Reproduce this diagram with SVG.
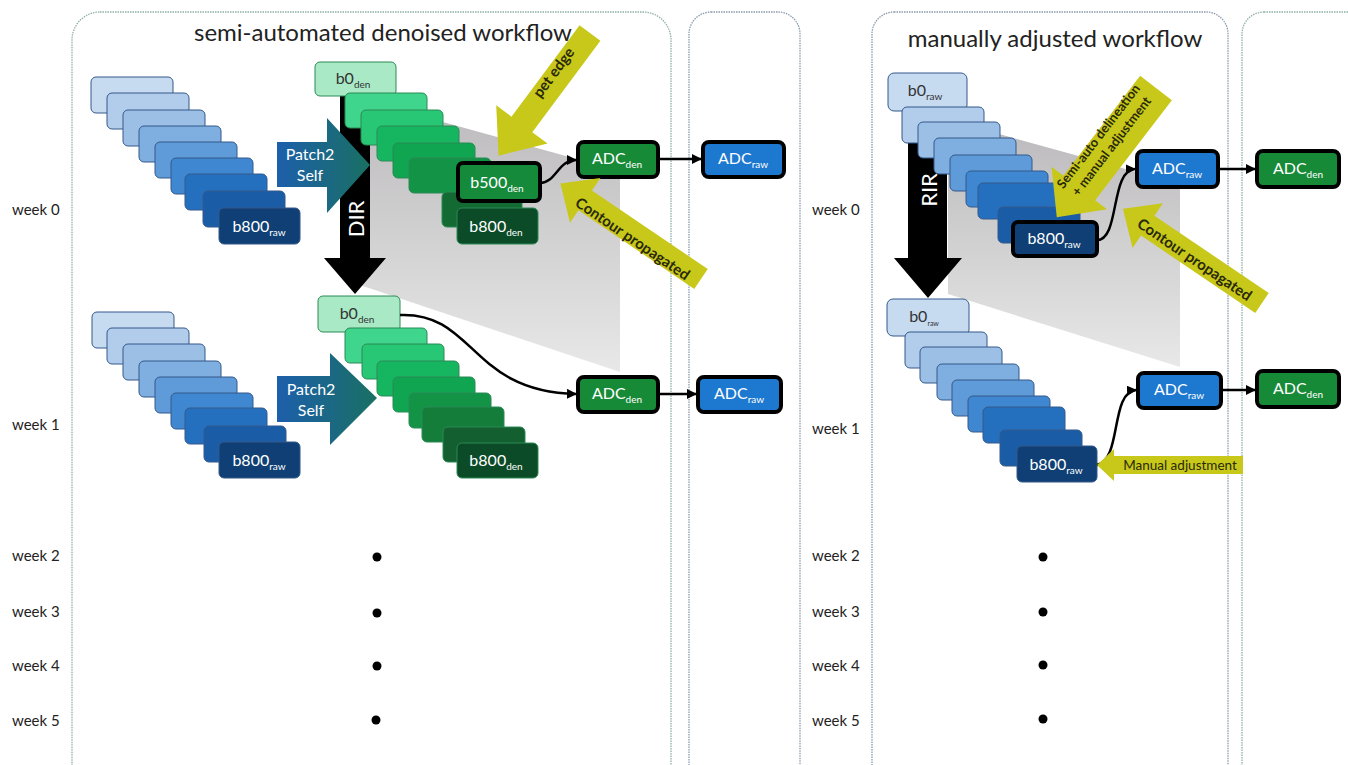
<svg xmlns="http://www.w3.org/2000/svg" width="1348" height="765" viewBox="0 0 1348 765">
<style>
text{font-family:Lato,"Open Sans","Liberation Sans",sans-serif}
.panelA{fill:none;stroke:#8fb0a8;stroke-width:1.3;stroke-dasharray:1.5 1}
.panelB{fill:none;stroke:#8c9aae;stroke-width:1.3;stroke-dasharray:1.5 1}
.title{font-size:24px;fill:#222;text-anchor:middle}
.week{font-size:15px;fill:#222}
.bl{stroke:#34598a;stroke-width:1}
.gr{stroke:#2a8a55;stroke-width:1}
.thick{stroke:#000;stroke-width:4}
.lbl{font-size:16px;text-anchor:middle;fill:#fff}
.dark{fill:#333}
.sub{font-size:10px}
.yel{fill:#c8c81a}
.ytxt{font-size:15px;font-weight:bold;fill:#2a2a08;text-anchor:middle;dominant-baseline:central}
.big{font-size:22px;fill:#fff;text-anchor:middle;dominant-baseline:central}
.p2s{font-size:16px;fill:#fff;text-anchor:middle}
.conn{fill:none;stroke:#000;stroke-width:2.5}
</style>
<defs>
<marker id="ah" viewBox="0 0 10 10" refX="9" refY="5" markerWidth="4" markerHeight="4" orient="auto" markerUnits="strokeWidth">
<path d="M0,0 L10,5 L0,10 z" fill="#000"/>
</marker>
<linearGradient id="shadeL" gradientUnits="userSpaceOnUse" x1="0" y1="95" x2="0" y2="372">
<stop offset="0" stop-color="#bbb9bb"/><stop offset="1" stop-color="#e8e8e8"/>
</linearGradient>
<linearGradient id="shadeR" gradientUnits="userSpaceOnUse" x1="0" y1="120" x2="0" y2="367">
<stop offset="0" stop-color="#bbb9bb"/><stop offset="1" stop-color="#e8e8e8"/>
</linearGradient>
<linearGradient id="p2s" x1="0" y1="0" x2="1" y2="0">
<stop offset="0" stop-color="#1d5fab"/><stop offset="1" stop-color="#197062"/>
</linearGradient>
</defs>

<g id="panels">
<rect class="panelA" x="72" y="12" width="599" height="790" rx="28"/>
<rect class="panelB" x="689" y="12" width="111" height="790" rx="22"/>
<rect class="panelB" x="872" y="12" width="356" height="790" rx="22"/>
<rect class="panelA" x="1242" y="12" width="130" height="790" rx="22"/>
<text class="title" x="383" y="41">semi-automated denoised workflow</text>
<text class="title" x="1055" y="47">manually adjusted workflow</text>
</g>

<g id="week-labels">
<text class="week" x="12" y="215">week 0</text>
<text class="week" x="12" y="430">week 1</text>
<text class="week" x="12" y="561">week 2</text>
<text class="week" x="12" y="617">week 3</text>
<text class="week" x="12" y="671">week 4</text>
<text class="week" x="12" y="726">week 5</text>
<text class="week" x="812" y="215">week 0</text>
<text class="week" x="812" y="434">week 1</text>
<text class="week" x="812" y="561">week 2</text>
<text class="week" x="812" y="617">week 3</text>
<text class="week" x="812" y="671">week 4</text>
<text class="week" x="812" y="726">week 5</text>
</g>

<g id="dots" fill="#000">
<circle cx="377" cy="557" r="4.5"/><circle cx="377" cy="613" r="4.5"/><circle cx="377" cy="666" r="4.5"/><circle cx="376" cy="720" r="4.5"/>
<circle cx="1043" cy="557" r="4.5"/><circle cx="1043" cy="612" r="4.5"/><circle cx="1043" cy="665" r="4.5"/><circle cx="1043" cy="719" r="4.5"/>
</g>

<g id="shadows">
<polygon points="345,95 620,171 620,372 345,280" fill="url(#shadeL)"/>
<polygon points="948,120 1180,184 1180,367 948,294" fill="url(#shadeR)"/>
</g>

<g id="dir-arrow">
<polygon points="340,95 370,95 370,258 386,258 355,294 324,258 340,258" fill="#000"/>
<text class="big" transform="translate(355,219) rotate(-90)">DIR</text>
</g>
<g id="rir-arrow">
<polygon points="908,108 947,108 947,258 962,258 928,298 894,258 908,258" fill="#000"/>
<text class="big" transform="translate(928,190) rotate(-90)">RIR</text>
</g>

<g id="raw-stack-w0-left">
<rect class="bl" x="91" y="77" width="82" height="36" rx="5" fill="#c6daf0"/>
<rect class="bl" x="107" y="93" width="82" height="36" rx="5" fill="#b2cdeb"/>
<rect class="bl" x="123" y="110" width="82" height="36" rx="5" fill="#9cbfe6"/>
<rect class="bl" x="139" y="126" width="82" height="36" rx="5" fill="#7faee0"/>
<rect class="bl" x="155" y="142" width="82" height="36" rx="5" fill="#5f9bd8"/>
<rect class="bl" x="171" y="158" width="82" height="36" rx="5" fill="#3f87d1"/>
<rect class="bl" x="185" y="174" width="82" height="36" rx="5" fill="#2470bf"/>
<rect class="bl" x="203" y="191" width="82" height="36" rx="5" fill="#1a5ca6"/>
<rect class="bl" x="219" y="208" width="81" height="36" rx="5" fill="#0f3f74"/>
<text class="lbl" x="259" y="232">b800<tspan class="sub" dy="4">raw</tspan></text>
</g>

<g id="raw-stack-w1-left">
<rect class="bl" x="92" y="312" width="82" height="36" rx="5" fill="#c6daf0"/>
<rect class="bl" x="107" y="328" width="82" height="36" rx="5" fill="#b2cdeb"/>
<rect class="bl" x="123" y="344" width="82" height="36" rx="5" fill="#9cbfe6"/>
<rect class="bl" x="139" y="361" width="82" height="36" rx="5" fill="#7faee0"/>
<rect class="bl" x="155" y="377" width="82" height="36" rx="5" fill="#5f9bd8"/>
<rect class="bl" x="171" y="393" width="82" height="36" rx="5" fill="#3f87d1"/>
<rect class="bl" x="185" y="408" width="82" height="36" rx="5" fill="#2470bf"/>
<rect class="bl" x="204" y="426" width="82" height="36" rx="5" fill="#1a5ca6"/>
<rect class="bl" x="219" y="442" width="81" height="36" rx="5" fill="#0f3f74"/>
<text class="lbl" x="259" y="466">b800<tspan class="sub" dy="4">raw</tspan></text>
</g>

<g id="den-stack-w0">
<rect class="gr" x="315" y="62" width="81" height="34" rx="5" fill="#a9e9c6"/>
<text class="lbl dark" x="353" y="84">b0<tspan class="sub" dy="4">den</tspan></text>
<rect class="gr" x="345" y="93" width="82" height="35" rx="5" fill="#40d58c"/>
<rect class="gr" x="361" y="110" width="82" height="35" rx="5" fill="#28c775"/>
<rect class="gr" x="377" y="126" width="82" height="35" rx="5" fill="#16b660"/>
<rect class="gr" x="393" y="143" width="82" height="35" rx="5" fill="#0fa551"/>
<rect class="gr" x="409" y="158" width="82" height="35" rx="5" fill="#129345"/>
<rect class="gr" x="442" y="192" width="80" height="35" rx="5" fill="#136a33"/>
</g>
<g id="b500den-w0">
<rect class="thick" x="458" y="163" width="82" height="38" rx="5" fill="#168a3b"/>
<text class="lbl" x="497" y="188">b500<tspan class="sub" dy="4">den</tspan></text>
</g>
<g id="b800den-w0">
<rect class="gr" x="457" y="208" width="81" height="36" rx="5" fill="#0c4b27"/>
<text class="lbl" x="496" y="232">b800<tspan class="sub" dy="4">den</tspan></text>
</g>

<g id="den-stack-w1">
<rect class="gr" x="318" y="296" width="82" height="36" rx="5" fill="#a9e9c6"/>
<text class="lbl dark" x="357" y="319">b0<tspan class="sub" dy="4">den</tspan></text>
<rect class="gr" x="345" y="328" width="82" height="35" rx="5" fill="#40d58c"/>
<rect class="gr" x="362" y="344" width="82" height="35" rx="5" fill="#28c775"/>
<rect class="gr" x="377" y="361" width="82" height="35" rx="5" fill="#16b660"/>
<rect class="gr" x="393" y="377" width="82" height="35" rx="5" fill="#0fa551"/>
<rect class="gr" x="409" y="393" width="82" height="35" rx="5" fill="#129345"/>
<rect class="gr" x="422" y="407" width="82" height="35" rx="5" fill="#157d3a"/>
<rect class="gr" x="443" y="427" width="82" height="35" rx="5" fill="#135f2f"/>
<rect class="gr" x="457" y="443" width="81" height="35" rx="5" fill="#0c4b27"/>
<text class="lbl" x="496" y="466">b800<tspan class="sub" dy="4">den</tspan></text>
</g>

<g id="patch2self-w0">
<polygon points="277,142 327,142 327,118 370,165 327,213 327,187 277,187" fill="url(#p2s)"/>
<text class="p2s" x="310" y="160">Patch2</text>
<text class="p2s" x="310" y="181">Self</text>
</g>
<g id="patch2self-w1">
<polygon points="277,376 330,376 330,353 377,398 330,445 330,422 277,422" fill="url(#p2s)"/>
<text class="p2s" x="311" y="395">Patch2</text>
<text class="p2s" x="311" y="416">Self</text>
</g>

<g id="raw-stack-w0-right">
<rect class="bl" x="888" y="73" width="79" height="38" rx="6" fill="#c6daf0"/>
<text class="lbl dark" x="925" y="96">b0<tspan class="sub" dy="4">raw</tspan></text>
<rect class="bl" x="902" y="107" width="82" height="36" rx="5" fill="#b2cdeb"/>
<rect class="bl" x="918" y="122" width="82" height="36" rx="5" fill="#9cbfe6"/>
<rect class="bl" x="934" y="138" width="82" height="36" rx="5" fill="#7faee0"/>
<rect class="bl" x="950" y="155" width="82" height="36" rx="5" fill="#5f9bd8"/>
<rect class="bl" x="966" y="171" width="82" height="36" rx="5" fill="#3f87d1"/>
<rect class="bl" x="978" y="183" width="82" height="36" rx="5" fill="#2470bf"/>
<rect class="bl" x="998" y="207" width="82" height="36" rx="5" fill="#1a5ca6"/>
</g>
<g id="b800raw-w0-right">
<rect class="thick" x="1013" y="222" width="84" height="34" rx="5" fill="#0f3f74"/>
<text class="lbl" x="1054" y="244">b800<tspan class="sub" dy="4">raw</tspan></text>
</g>

<g id="raw-stack-w1-right">
<rect class="bl" x="887" y="299" width="82" height="37" rx="6" fill="#c6daf0"/>
<text class="lbl dark" x="924" y="322">b0<tspan class="sub" dy="4" style="font-size:7px">raw</tspan></text>
<rect class="bl" x="905" y="332" width="82" height="36" rx="5" fill="#b2cdeb"/>
<rect class="bl" x="920" y="347" width="82" height="36" rx="5" fill="#9cbfe6"/>
<rect class="bl" x="937" y="364" width="82" height="36" rx="5" fill="#7faee0"/>
<rect class="bl" x="952" y="380" width="82" height="36" rx="5" fill="#5f9bd8"/>
<rect class="bl" x="968" y="396" width="82" height="36" rx="5" fill="#3f87d1"/>
<rect class="bl" x="983" y="407" width="82" height="36" rx="5" fill="#2470bf"/>
<rect class="bl" x="1000" y="430" width="82" height="36" rx="5" fill="#1a5ca6"/>
<rect class="bl" x="1017" y="446" width="80" height="36" rx="5" fill="#0f3f74"/>
<text class="lbl" x="1056" y="470">b800<tspan class="sub" dy="4">raw</tspan></text>
</g>

<g id="adc-den-w0-left">
<rect class="thick" x="578" y="142" width="80" height="35" rx="6" fill="#178a38"/>
<text class="lbl" x="617" y="164">ADC<tspan class="sub" dy="4">den</tspan></text>
</g>
<g id="adc-raw-w0-left">
<rect class="thick" x="703" y="142" width="81" height="35" rx="6" fill="#1d78d0"/>
<text class="lbl" x="743" y="164">ADC<tspan class="sub" dy="4">raw</tspan></text>
</g>
<g id="adc-den-w1-left">
<rect class="thick" x="578" y="377" width="80" height="35" rx="6" fill="#178a38"/>
<text class="lbl" x="617" y="399">ADC<tspan class="sub" dy="4">den</tspan></text>
</g>
<g id="adc-raw-w1-left">
<rect class="thick" x="698" y="377" width="83" height="35" rx="6" fill="#1d78d0"/>
<text class="lbl" x="739" y="399">ADC<tspan class="sub" dy="4">raw</tspan></text>
</g>
<g id="adc-raw-w0-right">
<rect class="thick" x="1137" y="151" width="81" height="36" rx="6" fill="#1d78d0"/>
<text class="lbl" x="1177" y="174">ADC<tspan class="sub" dy="4">raw</tspan></text>
</g>
<g id="adc-den-w0-right">
<rect class="thick" x="1257" y="151" width="82" height="36" rx="6" fill="#178a38"/>
<text class="lbl" x="1298" y="174">ADC<tspan class="sub" dy="4">den</tspan></text>
</g>
<g id="adc-raw-w1-right">
<rect class="thick" x="1138" y="373" width="83" height="35" rx="6" fill="#1d78d0"/>
<text class="lbl" x="1179" y="395">ADC<tspan class="sub" dy="4">raw</tspan></text>
</g>
<g id="adc-den-w1-right">
<rect class="thick" x="1257" y="371" width="82" height="36" rx="6" fill="#178a38"/>
<text class="lbl" x="1298" y="394">ADC<tspan class="sub" dy="4">den</tspan></text>
</g>

<g id="connectors">
<path class="conn" d="M540,183 C556,183 558,160 576,160" marker-end="url(#ah)"/>
<path class="conn" d="M658,159 L701,159" marker-end="url(#ah)"/>
<path class="conn" d="M400,315 C475,312 470,392 576,394" marker-end="url(#ah)"/>
<path class="conn" d="M658,394 L696,394" marker-end="url(#ah)"/>
<path class="conn" d="M1097,240 C1120,240 1110,170 1135,169" marker-end="url(#ah)"/>
<path class="conn" d="M1218,169 L1255,169" marker-end="url(#ah)"/>
<path class="conn" d="M1097,465 C1122,460 1110,392 1136,390" marker-end="url(#ah)"/>
<path class="conn" d="M1221,390 L1255,390" marker-end="url(#ah)"/>
</g>

<g id="yellow-pet-edge">
<polygon class="yel" transform="translate(590,33) rotate(126.7)" points="0,-13 114,-13 114,-32 153,0 114,32 114,13 0,13"/>
<text class="ytxt" transform="translate(553,72) rotate(-53.3)">pet edge</text>
</g>
<g id="yellow-contour-left">
<polygon class="yel" transform="translate(701,279) rotate(-145.8)" points="0,-12 140,-12 140,-27 170,0 140,27 140,12 0,12"/>
<text class="ytxt" transform="translate(633,238) rotate(34.2)">Contour propagated</text>
</g>
<g id="yellow-semi-auto">
<polygon class="yel" transform="translate(1156,88) rotate(127.5)" points="0,-20 126,-20 126,-35 163,0 126,35 126,20 0,20"/>
<text class="ytxt" style="font-size:13px" transform="translate(1098,136) rotate(-52.5)">Semi-auto delineation</text>
<text class="ytxt" style="font-size:13px" transform="translate(1111,146) rotate(-52.5)">+ manual adjustment</text>
</g>
<g id="yellow-contour-right">
<polygon class="yel" transform="translate(1262,303) rotate(-145.9)" points="0,-12 138,-12 138,-27 168,0 138,27 138,12 0,12"/>
<text class="ytxt" transform="translate(1195,259) rotate(34.1)">Contour propagated</text>
</g>
<g id="yellow-manual">
<polygon class="yel" points="1243,456 1114,456 1114,449 1097,465 1114,481 1114,474 1243,474"/>
<text class="ytxt" style="font-size:13.5px;font-weight:normal" x="1180" y="465">Manual adjustment</text>
</g>
</svg>
